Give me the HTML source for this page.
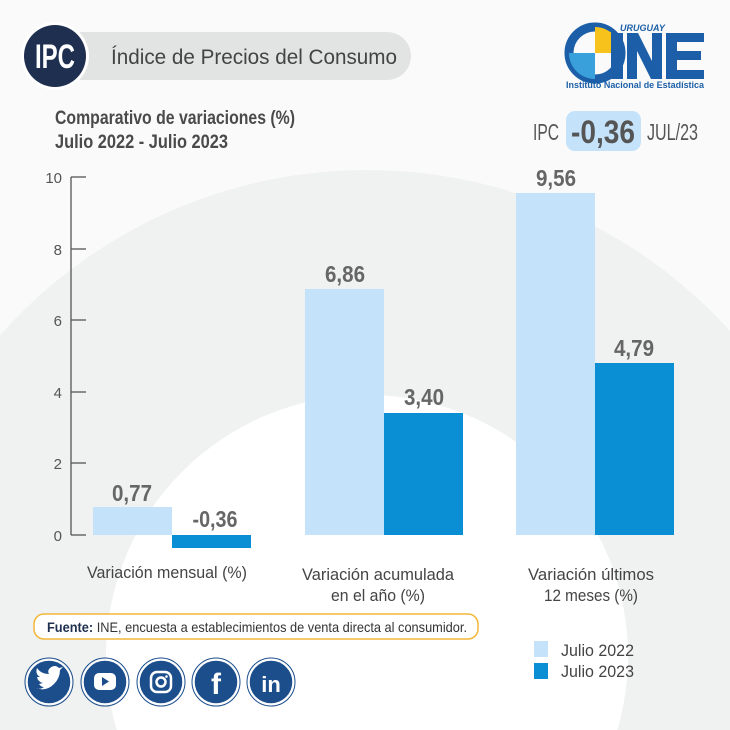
<!DOCTYPE html>
<html><head><meta charset="utf-8"><style>
html,body{margin:0;padding:0;background:#fff;width:730px;height:730px;overflow:hidden;}
svg{display:block;font-family:"Liberation Sans",sans-serif;}
</style></head><body>
<svg width="730" height="730" viewBox="0 0 730 730" xmlns="http://www.w3.org/2000/svg">
<rect width="730" height="730" fill="#fafafa"/>
<circle cx="367" cy="660" r="490" fill="#f0f1f1"/>
<circle cx="367" cy="656" r="261" fill="#ffffff"/>
<!-- header -->
<rect x="45" y="32" width="366" height="48" rx="24" fill="#e2e3e3"/>
<circle cx="55" cy="56" r="34" fill="#fff"/>
<circle cx="55" cy="56" r="31" fill="#1f2f4f"/>
<text x="55" y="68" text-anchor="middle" font-size="34" font-weight="bold" fill="#fff" textLength="40" lengthAdjust="spacingAndGlyphs">IPC</text>
<text x="111" y="64" font-size="21" fill="#444" textLength="286" lengthAdjust="spacingAndGlyphs">Índice de Precios del Consumo</text>
<!-- logo -->
<circle cx="595" cy="53" r="26" fill="none" stroke="#1c5fa8" stroke-width="9"/>
<path d="M595 27 A26 26 0 0 1 621 53 L595 53Z" fill="#f6c21b"/>
<path d="M595 53 L595 79 A26 26 0 0 1 569 53Z" fill="#3aa0dc"/>
<rect x="611" y="33" width="12" height="46" fill="#1c5fa8"/>
<path d="M627 33 h11 l14 28 v-28 h10 v46 h-11 l-14 -28 v28 h-10Z" fill="#1c5fa8"/>
<path d="M666 33 h38 v9 h-27 v9 h24 v9 h-24 v10 h27 v9 h-38Z" fill="#1c5fa8"/>
<text x="620" y="31" font-size="9" font-style="italic" font-weight="bold" fill="#1c5fa8">URUGUAY</text>
<text x="566" y="88" font-size="9" font-weight="bold" fill="#1c5fa8" textLength="138" lengthAdjust="spacingAndGlyphs">Instituto Nacional de Estadística</text>
<!-- titles -->
<text x="55" y="124" font-size="19" font-weight="bold" fill="#4a4a4a" textLength="240" lengthAdjust="spacingAndGlyphs">Comparativo de variaciones (%)</text>
<text x="55" y="148" font-size="19" font-weight="bold" fill="#4a4a4a" textLength="173" lengthAdjust="spacingAndGlyphs">Julio 2022 - Julio 2023</text>
<text x="533" y="140" font-size="23" fill="#555" textLength="26" lengthAdjust="spacingAndGlyphs">IPC</text>
<rect x="566" y="111" width="75" height="40" rx="9" fill="#c5e2fb"/>
<text x="603" y="143" text-anchor="middle" font-size="32" font-weight="bold" fill="#555" textLength="64" lengthAdjust="spacingAndGlyphs">-0,36</text>
<text x="647" y="140" font-size="23" fill="#555" textLength="51" lengthAdjust="spacingAndGlyphs">JUL/23</text>
<!-- axis -->
<g stroke="#555" stroke-width="1.3" fill="none">
<line x1="71" y1="177" x2="71" y2="535"/>
<line x1="71" y1="177" x2="86" y2="177"/>
<line x1="71" y1="249" x2="86" y2="249"/>
<line x1="71" y1="320" x2="86" y2="320"/>
<line x1="71" y1="392" x2="86" y2="392"/>
<line x1="71" y1="463" x2="86" y2="463"/>
<line x1="71" y1="535" x2="86" y2="535"/>
</g>
<g font-size="15" fill="#555" text-anchor="end">
<text x="62" y="183">10</text><text x="62" y="255">8</text><text x="62" y="326">6</text>
<text x="62" y="398">4</text><text x="62" y="469">2</text><text x="62" y="541">0</text>
</g>
<!-- bars -->
<rect x="93" y="507" width="79" height="28" fill="#c5e2fb"/>
<rect x="172" y="535" width="79" height="13" fill="#0a8fd4"/>
<rect x="305" y="289" width="79" height="246" fill="#c5e2fb"/>
<rect x="384" y="413" width="79" height="122" fill="#0a8fd4"/>
<rect x="516" y="193" width="79" height="342" fill="#c5e2fb"/>
<rect x="595" y="363" width="79" height="172" fill="#0a8fd4"/>
<g font-size="23" font-weight="bold" fill="#666" text-anchor="middle">
<text x="132" y="501" textLength="40" lengthAdjust="spacingAndGlyphs">0,77</text><text x="215" y="527" textLength="45" lengthAdjust="spacingAndGlyphs">-0,36</text>
<text x="345" y="282" textLength="40" lengthAdjust="spacingAndGlyphs">6,86</text><text x="424" y="405" textLength="40" lengthAdjust="spacingAndGlyphs">3,40</text>
<text x="556" y="186" textLength="40" lengthAdjust="spacingAndGlyphs">9,56</text><text x="634" y="356" textLength="40" lengthAdjust="spacingAndGlyphs">4,79</text>
</g>
<g font-size="17" fill="#444" text-anchor="middle">
<text x="167" y="578" textLength="160" lengthAdjust="spacingAndGlyphs">Variación mensual (%)</text>
<text x="378" y="580" textLength="152" lengthAdjust="spacingAndGlyphs">Variación acumulada</text><text x="378" y="601" textLength="94" lengthAdjust="spacingAndGlyphs">en el año (%)</text>
<text x="591" y="580" textLength="126" lengthAdjust="spacingAndGlyphs">Variación últimos</text><text x="591" y="601" textLength="94" lengthAdjust="spacingAndGlyphs">12 meses (%)</text>
</g>
<!-- source -->
<rect x="34" y="614" width="444" height="25" rx="10" fill="#fff" stroke="#f2b73a" stroke-width="1.5"/>
<text x="47" y="632" font-size="14" fill="#333" textLength="420" lengthAdjust="spacingAndGlyphs"><tspan font-weight="bold" fill="#1f2f4f">Fuente:</tspan> INE, encuesta a establecimientos de venta directa al consumidor.</text>
<!-- legend -->
<rect x="534" y="641" width="14" height="16" fill="#c5e2fb"/>
<rect x="534" y="663" width="14" height="16" fill="#0a8fd4"/>
<g font-size="17" fill="#444"><text x="561" y="656" textLength="73" lengthAdjust="spacingAndGlyphs">Julio 2022</text><text x="561" y="677" textLength="73" lengthAdjust="spacingAndGlyphs">Julio 2023</text></g>
<!-- social -->
<g>
<g fill="#1c4e8c" stroke="#fff" stroke-width="1.5">
<circle cx="49" cy="682" r="22"/><circle cx="105" cy="682" r="22"/><circle cx="161" cy="682" r="22"/><circle cx="216" cy="682" r="22"/><circle cx="271" cy="682" r="22"/>
</g>
<g fill="none" stroke="#1c4e8c" stroke-width="1"><circle cx="49" cy="682" r="24"/><circle cx="105" cy="682" r="24"/><circle cx="161" cy="682" r="24"/><circle cx="216" cy="682" r="24"/><circle cx="271" cy="682" r="24"/></g>
<path d="M36 688 q10 4 18 -4 q6 -6 6 -14 l3 -3 l-4 1 q-4 -4 -9 0 q-3 3 -1 6 q-8 0 -12 -6 q-2 6 3 9 l-3 0 q1 5 6 6 l-4 1 q2 3 5 3 q-4 3 -8 1Z" fill="#fff"/>
<rect x="94" y="673" width="22" height="17" rx="5" fill="#fff"/><path d="M102 677 l7 4.5 l-7 4.5Z" fill="#1c4e8c"/>
<rect x="151" y="672" width="20" height="20" rx="6" fill="none" stroke="#fff" stroke-width="2.5"/><circle cx="161" cy="682" r="4.5" fill="none" stroke="#fff" stroke-width="2.5"/><circle cx="166.5" cy="676.5" r="1.3" fill="#fff"/>
<text x="216" y="694" text-anchor="middle" font-size="30" font-weight="bold" fill="#fff">f</text>
<text x="271" y="692" text-anchor="middle" font-size="22" font-weight="bold" fill="#fff">in</text>
</g>
</svg>
</body></html>
